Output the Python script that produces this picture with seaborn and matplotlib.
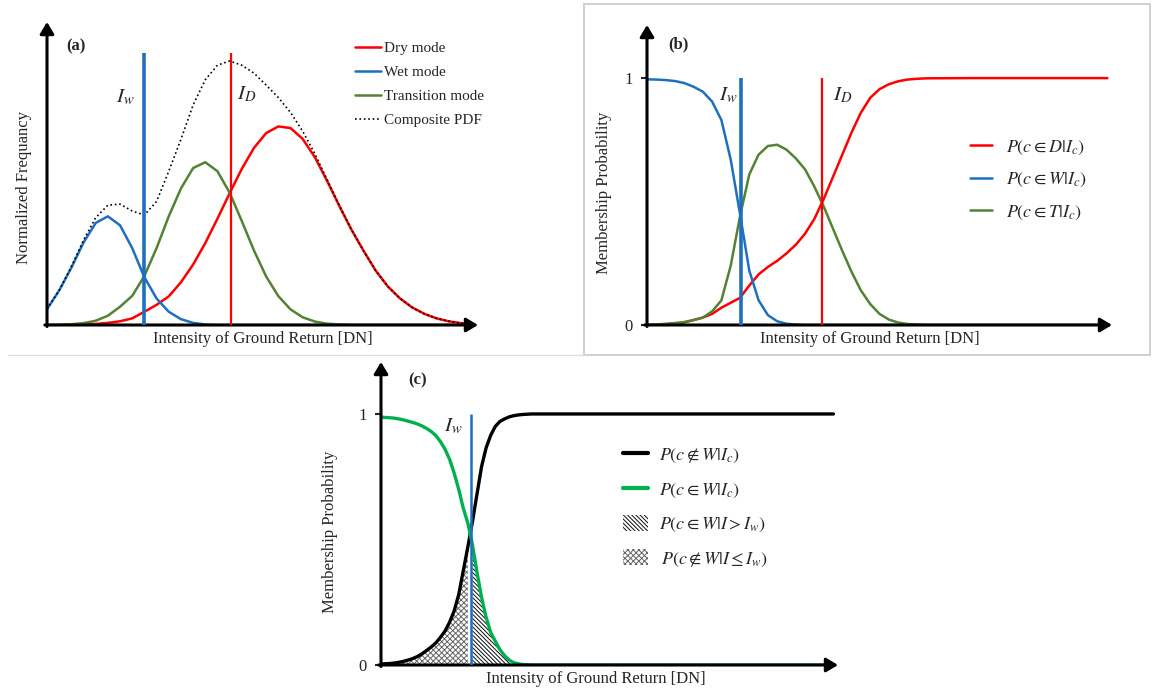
import matplotlib
matplotlib.use("Agg")
import matplotlib.pyplot as plt
from matplotlib.patches import Patch, Rectangle
from matplotlib.lines import Line2D
import numpy as np
import seaborn as sns

# ---------------- data (x in DN units) ----------------
# panel (a): normalized frequency of each mode
x_a = [0, 2.5, 5, 7.5, 10, 12.5, 15, 17.5, 20, 22.5, 25, 27.5, 30, 32.5, 35, 37.5,
       40, 42.5, 45, 47.5, 50, 52.5, 55, 57.5, 60, 62.5, 65, 67.5, 70, 72.5, 75,
       77.5, 80, 82.5, 85, 87.5]
dry_a = [0, 0, 0.001, 0.002, 0.004, 0.008, 0.014, 0.025, 0.05, 0.076, 0.108, 0.161,
         0.228, 0.309, 0.401, 0.497, 0.589, 0.668, 0.724, 0.749, 0.743, 0.702, 0.633,
         0.544, 0.45, 0.36, 0.28, 0.205, 0.145, 0.10, 0.066, 0.042, 0.025, 0.014,
         0.007, 0.003]
wet_a = [0.06, 0.13, 0.216, 0.311, 0.385, 0.41, 0.376, 0.29, 0.18, 0.10, 0.05,
         0.022, 0.008, 0.002, 0, 0, 0, 0, 0, 0, 0, 0, 0, 0, 0, 0, 0, 0, 0, 0, 0,
         0, 0, 0, 0, 0]
trans_a = [0, 0.001, 0.003, 0.007, 0.016, 0.035, 0.069, 0.11, 0.185, 0.29, 0.41,
           0.515, 0.592, 0.614, 0.58, 0.499, 0.392, 0.281, 0.183, 0.109, 0.059,
           0.029, 0.013, 0.005, 0.002, 0, 0, 0, 0, 0, 0, 0, 0, 0, 0, 0]
composite_a = [0.06, 0.131, 0.22, 0.32, 0.405, 0.452, 0.456, 0.43, 0.415, 0.466, 0.58,
               0.70, 0.83, 0.925, 0.98, 0.996, 0.98, 0.95, 0.905, 0.858, 0.802,
               0.731, 0.646, 0.549, 0.452, 0.36, 0.28, 0.205, 0.145, 0.10, 0.066,
               0.042, 0.025, 0.014, 0.007, 0.003]
iw_a, id_a = 19.9, 37.7

# panel (b): membership probabilities
x_b = [0, 2, 4, 6, 8, 10, 12, 14, 16, 18, 20, 22, 24, 26, 28, 30, 32, 34, 36, 38,
       40, 42, 44, 46, 48, 50, 52, 54, 56, 58, 60, 70, 80, 90, 99]
dry_b = [0, 0.001, 0.003, 0.006, 0.01, 0.02, 0.03, 0.045, 0.07, 0.09, 0.11, 0.16,
         0.205, 0.235, 0.26, 0.29, 0.325, 0.37, 0.43, 0.51, 0.6, 0.69, 0.78, 0.86,
         0.92, 0.955, 0.975, 0.987, 0.994, 0.997, 0.999, 1, 1, 1, 1]
wet_b = [0.995, 0.994, 0.992, 0.988, 0.98, 0.965, 0.945, 0.905, 0.83, 0.67, 0.45, 0.22,
         0.10, 0.04, 0.015, 0.005, 0.002, 0, 0, 0, 0, 0, 0, 0, 0, 0, 0, 0, 0, 0, 0,
         0, 0, 0, 0]
trans_b = [0, 0.002, 0.005, 0.008, 0.012, 0.02, 0.03, 0.055, 0.10, 0.24, 0.44, 0.61,
           0.69, 0.725, 0.73, 0.71, 0.675, 0.63, 0.56, 0.48, 0.39, 0.30, 0.215, 0.14,
           0.085, 0.045, 0.022, 0.01, 0.004, 0.002, 0, 0, 0, 0, 0]
iw_b, id_b = 20.3, 37.7

# panel (c): wet / not-wet membership
x_c = [0, 1, 2, 3, 4, 5, 6, 7, 8, 9, 10, 11, 12, 13, 14, 15, 16, 17, 18, 19, 20, 21,
       22, 23, 24, 25, 26, 27, 28, 29, 30, 31, 32, 33, 34, 40, 50, 60, 70, 80, 90, 99]
notwet_c = [0.004, 0.005, 0.006, 0.008, 0.011, 0.015, 0.02, 0.026, 0.034, 0.045,
            0.058, 0.072, 0.088, 0.11, 0.135, 0.17, 0.215, 0.28, 0.375, 0.47, 0.57,
            0.68, 0.79, 0.865, 0.915, 0.95, 0.97, 0.98, 0.988, 0.993, 0.996, 0.998,
            0.999, 1, 1, 1, 1, 1, 1, 1, 1, 1]
wet_c = [0.987, 0.986, 0.985, 0.983, 0.98, 0.976, 0.971, 0.966, 0.96, 0.952, 0.942,
         0.93, 0.914, 0.89, 0.86, 0.82, 0.765, 0.70, 0.625, 0.565, 0.48, 0.37,
         0.27, 0.19, 0.13, 0.095, 0.062, 0.038, 0.02, 0.01, 0.005, 0.002, 0.001, 0,
         0, 0, 0, 0, 0, 0, 0, 0]
iw_c = 19.6

RED = '#FF0000'
BLUE = '#1F6FBF'
DKGREEN = '#548235'
GREEN = '#00B050'

sns.set_style('white')
plt.rcParams['font.family'] = ['Liberation Serif', 'DejaVu Serif']
plt.rcParams['mathtext.fontset'] = 'stix'
plt.rcParams['hatch.linewidth'] = 0.7

fig = plt.figure(figsize=(11.52, 6.92), dpi=100)
W, H = 1152, 692


def place(x0, y0, x1, y1):
    # pixel box: origin of the arrows (x0, y0) and the arrow tips (x1, y1)
    return fig.add_axes([x0 / W, (H - y0) / H, (x1 - x0) / W, (y0 - y1) / H])


def arrows(ax, xmax):
    kw = dict(arrowstyle='-|>,head_length=0.5,head_width=0.3', color='black',
              lw=2.2, mutation_scale=14, shrinkA=0, shrinkB=0)
    ax.annotate('', xy=(1, 0), xytext=(-0.005, 0), xycoords='axes fraction',
                arrowprops=kw, annotation_clip=False)
    ax.annotate('', xy=(0, 1), xytext=(0, -0.005), xycoords='axes fraction',
                arrowprops=kw, annotation_clip=False)
    sns.despine(ax=ax, left=True, bottom=True)
    ax.set_xticks([])
    ax.set_xlim(0, xmax)


xlab = 'Intensity of Ground Return [DN]'
DIAG = '\\' * 8
CROSS = 'x' * 6

# ---------------- (a) ----------------
ax1 = place(47, 325, 478, 22)
sns.lineplot(x=x_a, y=dry_a, ax=ax1, color=RED, lw=1.8, label='Dry mode')
sns.lineplot(x=x_a, y=wet_a, ax=ax1, color=BLUE, lw=1.8, label='Wet mode')
sns.lineplot(x=x_a, y=trans_a, ax=ax1, color=DKGREEN, lw=1.8, label='Transition mode')
sns.lineplot(x=x_a, y=composite_a, ax=ax1, color='black', lw=1.2, ls=':',
             label='Composite PDF')
ax1.vlines(iw_a, 0, 1.025, color=BLUE, lw=2.6, zorder=4)
ax1.vlines(id_a, 0, 1.025, color=RED, lw=1.6, zorder=4)
ax1.set_ylim(0, 1.143)
ax1.set_yticks([])
arrows(ax1, 88.5)
ax1.legend(loc='upper left', bbox_to_anchor=(0.715, 0.935), frameon=False, fontsize=11,
           handlelength=1.7, handletextpad=0.2, labelspacing=0.67, borderpad=0,
           borderaxespad=0)
ax1.text(iw_a - 2.0, 0.86, r'$I_w$', ha='right', va='center', fontsize=15)
ax1.text(id_a + 1.4, 0.87, r'$I_D$', ha='left', va='center', fontsize=15)
ax1.text(0.045, 0.92, '(a)', transform=ax1.transAxes, fontsize=12, fontweight='bold',
         ha='left', va='center')
ax1.set_ylabel('Normalized Frequancy', fontsize=12)
ax1.yaxis.set_label_coords(-0.035, 0.455)
ax1.set_xlabel(xlab, fontsize=12)
ax1.xaxis.set_label_coords(0.5, -0.02)

# ---------------- (b) ----------------
ax2 = place(647, 325, 1112, 25)
sns.lineplot(x=x_b, y=dry_b, ax=ax2, color=RED, lw=1.8, label=r'$P(c\in D|I_c)$')
sns.lineplot(x=x_b, y=wet_b, ax=ax2, color=BLUE, lw=1.8, label=r'$P(c\in W|I_c)$')
sns.lineplot(x=x_b, y=trans_b, ax=ax2, color=DKGREEN, lw=1.8, label=r'$P(c\in T|I_c)$')
ax2.vlines(iw_b, 0, 1, color=BLUE, lw=2.6, zorder=4)
ax2.vlines(id_b, 0, 1, color=RED, lw=1.6, zorder=4)
ax2.set_ylim(0, 1.215)
ax2.set_yticks([0, 1])
ax2.set_yticklabels(['0', '1'], fontsize=12)
ax2.tick_params(axis='y', length=4, width=1.5, pad=6, left=True)
arrows(ax2, 100)
ax2.legend(loc='upper left', bbox_to_anchor=(0.695, 0.622), frameon=False, fontsize=13,
           handlelength=1.2, handletextpad=0.8, labelspacing=0.8, borderpad=0,
           borderaxespad=0)
ax2.text(iw_b - 0.8, 0.93, r'$I_w$', ha='right', va='center', fontsize=15)
ax2.text(id_b + 2.2, 0.93, r'$I_D$', ha='left', va='center', fontsize=15)
ax2.text(0.045, 0.935, '(b)', transform=ax2.transAxes, fontsize=12, fontweight='bold',
         ha='left', va='center')
ax2.set_ylabel('Membership Probability', fontsize=12)
ax2.yaxis.set_label_coords(-0.075, 0.44)
ax2.set_xlabel(xlab, fontsize=12)
ax2.xaxis.set_label_coords(0.48, -0.02)

# ---------------- (c) ----------------
ax3 = place(381, 665, 838, 362)
xc = np.array(x_c)
ax3.fill_between(xc, 0, notwet_c, where=xc <= iw_c, interpolate=True, facecolor='white',
                 edgecolor='0.4', hatch=CROSS, lw=0, zorder=1)
ax3.fill_between(xc, 0, wet_c, where=xc >= iw_c, interpolate=True, facecolor='white',
                 edgecolor='0.05', hatch=DIAG, lw=0, zorder=1)
sns.lineplot(x=x_c, y=notwet_c, ax=ax3, color='black', lw=2.4, zorder=3)
sns.lineplot(x=x_c, y=wet_c, ax=ax3, color=GREEN, lw=2.4, zorder=3)
ax3.vlines(iw_c, 0, 1, color=BLUE, lw=1.8, zorder=4)
ax3.set_ylim(0, 1.207)
ax3.set_yticks([0, 1])
ax3.set_yticklabels(['0', '1'], fontsize=12)
ax3.tick_params(axis='y', length=4, width=1.5, pad=6, left=True)
arrows(ax3, 100)
handles = [Line2D([], [], color='black', lw=3),
           Line2D([], [], color=GREEN, lw=3),
           Patch(facecolor='white', edgecolor='0.05', hatch=DIAG, lw=0),
           Patch(facecolor='white', edgecolor='0.4', hatch=CROSS, lw=0)]
labels = [r'$P(c\notin W|I_c)$', r'$P(c\in W|I_c)$', r'$P(c\in W|I>I_w)$',
          r'$\,P(c\notin W|I\leq I_w)$']
ax3.legend(handles, labels, loc='upper left', bbox_to_anchor=(0.53, 0.722),
           frameon=False, fontsize=13, handlelength=1.4, handleheight=0.95,
           handletextpad=0.6, labelspacing=0.85, borderpad=0, borderaxespad=0)
ax3.text(iw_c - 1.8, 0.95, r'$I_w$', ha='right', va='center', fontsize=15)
ax3.text(0.06, 0.94, '(c)', transform=ax3.transAxes, fontsize=12, fontweight='bold',
         ha='left', va='center')
ax3.set_ylabel('Membership Probability', fontsize=12)
ax3.yaxis.set_label_coords(-0.095, 0.44)
ax3.set_xlabel(xlab, fontsize=12)
ax3.xaxis.set_label_coords(0.47, -0.02)

# panel frames
fig.add_artist(Rectangle((584 / W, (H - 355) / H), 566 / W, 351 / H, transform=fig.transFigure,
                         fill=False, edgecolor='#C8C8C8', lw=1.2))
fig.add_artist(Line2D([8 / W, 584 / W], [(H - 355) / H] * 2, transform=fig.transFigure,
                      color='#DDDDDD', lw=1.0))

fig.savefig('out.png', dpi=100, facecolor='white')
